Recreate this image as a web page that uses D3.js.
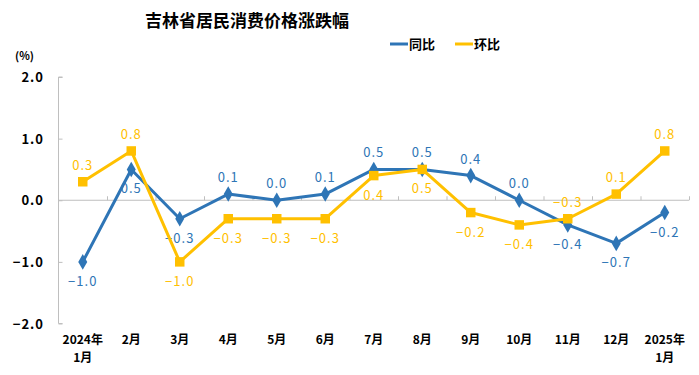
<!DOCTYPE html>
<html>
<head>
<meta charset="utf-8">
<script src="https://cdn.jsdelivr.net/npm/d3@7"></script>
<style>
  body { margin: 0; background: #fff; }
  svg { display: block; font-family: "Noto Sans CJK SC", "Noto Sans", sans-serif; }
</style>
</head>
<body>
<svg id="chart"></svg>
<script>
const months = ['2024年\n1月', '2月', '3月', '4月', '5月', '6月', '7月', '8月', '9月', '10月', '11月', '12月', '2025年\n1月'];
const yoy = [-1.0, 0.5, -0.3, 0.1, 0.0, 0.1, 0.5, 0.5, 0.4, 0.0, -0.4, -0.7, -0.2];
const mom = [0.3, 0.8, -1.0, -0.3, -0.3, -0.3, 0.4, 0.5, -0.2, -0.4, -0.3, 0.1, 0.8];
// label above (1) or below (-1) the point
const yoyPos = [-1, -1, -1, 1, 1, 1, 1, 1, 1, 1, -1, -1, -1];
const momPos = [1, 1, -1, -1, -1, -1, -1, -1, -1, -1, 1, 1, 1];
const yTicks = [2, 1, 0, -1, -2];

const width = 699, height = 375;
const margin = { top: 77, right: 10, bottom: 52, left: 58.5 };
const blue = '#2E75B6', yellow = '#FFC000';

const svg = d3.select('#chart').attr('width', width).attr('height', height);

const x = d3.scaleBand()
  .domain(months)
  .range([margin.left, 689]);

const y = d3.scaleLinear()
  .domain([-2, 2])
  .range([height - margin.bottom + 0.5, margin.top]);

const fmt = v => d3.format('.1f')(v).replace('-', '\u2212');

// title
svg.append('text')
  .attr('x', 247).attr('y', 27)
  .attr('text-anchor', 'middle')
  .style('font-size', '17px').style('font-weight', 700)
  .text('吉林省居民消费价格涨跌幅');

svg.append('text')
  .attr('x', 15).attr('y', 60)
  .style('font-size', '11px').style('font-weight', 700)
  .text('(%)');

// legend
const legend = [{ name: '同比', color: blue, x: 390 }, { name: '环比', color: yellow, x: 455 }];
legend.forEach(l => {
  svg.append('line')
    .attr('x1', l.x).attr('x2', l.x + 18)
    .attr('y1', 44).attr('y2', 44)
    .attr('stroke', l.color).attr('stroke-width', 3);
  svg.append('text')
    .attr('x', l.x + 19).attr('y', 49)
    .style('font-size', '13px').style('font-weight', 700)
    .text(l.name);
});

// y axis
const yAxis = svg.append('g')
  .attr('transform', `translate(${margin.left},0)`)
  .call(d3.axisRight(y).tickValues(yTicks).tickSize(4).tickFormat(''));
yAxis.select('.domain').attr('stroke', '#BFBFBF').attr('d', `M4,${y(2)}H0V${y(-2)}H4`);
yAxis.selectAll('.tick line').attr('stroke', '#BFBFBF');

svg.append('g').selectAll('text')
  .data(yTicks)
  .join('text')
  .attr('x', 44).attr('y', d => y(d) + 5)
  .attr('text-anchor', 'end')
  .style('font-size', '13px').style('font-weight', 700)
  .style('letter-spacing', '1px')
  .text(d => fmt(d));

// zero line with band ticks
const zero = svg.append('g')
  .attr('transform', `translate(0,${y(0)})`)
  .call(d3.axisTop(d3.scaleLinear().domain([0, 13]).range(x.range()))
    .ticks(13).tickSize(4).tickFormat(''));
zero.select('.domain').attr('stroke', '#BFBFBF').attr('d', `M${x.range()[0]},0H${x.range()[1]}`);
zero.selectAll('.tick line').attr('stroke', '#BFBFBF');
zero.selectAll('.tick').filter(d => d === 0).remove();

// x labels
const xl = svg.append('g').selectAll('text')
  .data(months)
  .join('text')
  .attr('x', d => x(d) + x.bandwidth() / 2)
  .attr('y', 344)
  .attr('text-anchor', 'middle')
  .style('font-size', '12px').style('font-weight', 700);
xl.selectAll('tspan')
  .data(d => d.split('\n'))
  .join('tspan')
  .attr('x', function () { return d3.select(this.parentNode).attr('x'); })
  .attr('dy', (d, i) => i === 0 ? 0 : 18)
  .text(d => d);

const cx = i => x(months[i]) + x.bandwidth() / 2;
const line = d3.line().x((d, i) => cx(i)).y(d => y(d));

function drawSeries(values, pos, color, symbol, size) {
  svg.append('path')
    .datum(values)
    .attr('fill', 'none')
    .attr('stroke', color)
    .attr('stroke-width', 3)
    .attr('stroke-linejoin', 'round')
    .attr('d', line);

  svg.append('g').selectAll('path')
    .data(values)
    .join('path')
    .attr('transform', (d, i) => `translate(${cx(i)},${y(d)})`)
    .attr('d', d3.symbol().type(symbol).size(size))
    .attr('fill', color);

  svg.append('g').selectAll('text')
    .data(values)
    .join('text')
    .attr('x', (d, i) => cx(i))
    .attr('y', (d, i) => y(d) + (pos[i] > 0 ? -12 : 24))
    .attr('text-anchor', 'middle')
    .attr('fill', color)
    .style('font-size', '13px')
    .style('letter-spacing', '1px')
    .text(d => fmt(d));
}

drawSeries(yoy, yoyPos, blue, d3.symbolDiamond, 70);
drawSeries(mom, momPos, yellow, d3.symbolSquare, 90);
</script>
</body>
</html>
